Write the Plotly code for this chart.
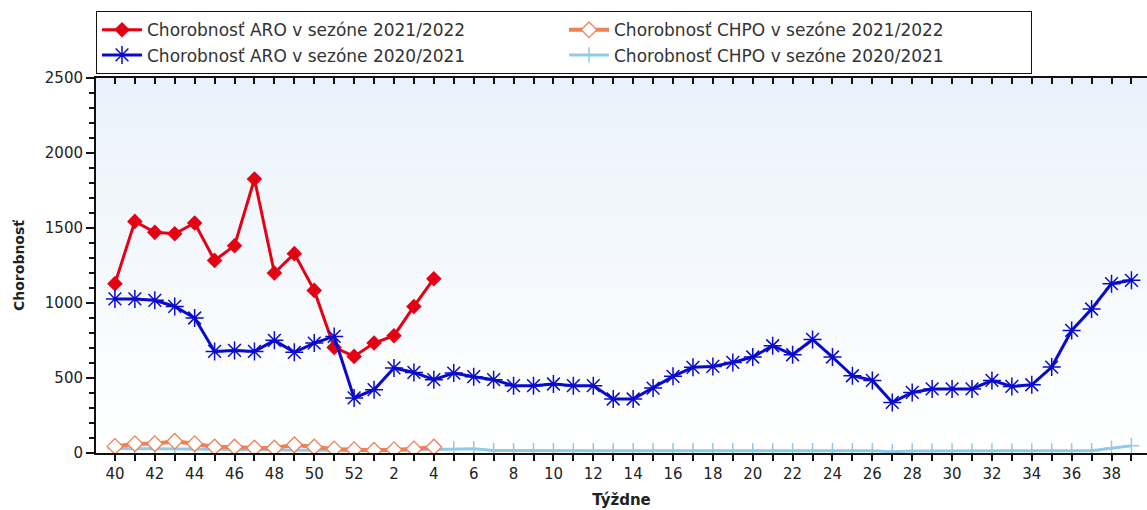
import plotly.graph_objects as go

# ---- data ----
weeks = [40, 41, 42, 43, 44, 45, 46, 47, 48, 49, 50, 51, 52,
         1, 2, 3, 4, 5, 6, 7, 8, 9, 10, 11, 12, 13, 14, 15, 16, 17, 18, 19, 20,
         21, 22, 23, 24, 25, 26, 27, 28, 29, 30, 31, 32, 33, 34, 35, 36, 37, 38, 39]

aro_2122 = [1129, 1544, 1471, 1462, 1533, 1284, 1382, 1827, 1200, 1329, 1084, 704, 644,
            733, 782, 977, 1162]

aro_2021 = [1027, 1027, 1018, 977, 900, 677, 684, 677, 751, 671, 733, 777, 367,
            422, 567, 537, 489, 533, 509, 489, 449, 449, 460, 449, 449, 360, 360, 433, 511,
            571, 577, 604, 640, 715, 655, 757, 640, 515, 484, 337, 404, 427, 427, 427, 484,
            444, 455, 573, 817, 960, 1129, 1151]

chpo_2122 = [44, 62, 62, 78, 62, 40, 40, 33, 33, 55, 40, 27, 22, 18, 22, 27, 40]

chpo_2021 = [30, 30, 28, 28, 28, 25, 22, 20, 20, 18, 18, 18, 15,
             15, 18, 20, 25, 28, 28, 16, 15, 15, 15, 15, 15, 15, 15, 15, 15,
             15, 15, 15, 15, 15, 15, 15, 15, 15, 15, 8, 14, 14, 14, 14, 14,
             14, 14, 14, 14, 15, 32, 48]

names = ["Chorobnosť ARO v sezóne 2021/2022",
         "Chorobnosť CHPO v sezóne 2021/2022",
         "Chorobnosť ARO v sezóne 2020/2021",
         "Chorobnosť CHPO v sezóne 2020/2021"]

y_ticks = [0, 500, 1000, 1500, 2000, 2500]

# ---- derived positions ----
idx_all = list(range(len(weeks)))
idx_2122 = idx_all[:len(aro_2122)]
tick_text = [str(w) if i % 2 == 0 else "" for i, w in enumerate(weeks)]

RED = "#E60012"
BLUE = "#0A0ACD"
ORANGE = "#F08055"
LBLUE = "#8FCBE8"
FONT = "DejaVu Sans, Verdana, sans-serif"

fig = go.Figure()

fig.add_trace(go.Scatter(
    x=idx_all, y=chpo_2021, name=names[3], mode="lines+markers", legendrank=4,
    line=dict(color=LBLUE, width=3),
    marker=dict(symbol="cross-thin-open", size=11, line=dict(color=LBLUE, width=1.5))))

fig.add_trace(go.Scatter(
    x=idx_2122, y=chpo_2122, name=names[1], mode="lines+markers", legendrank=2,
    line=dict(color=ORANGE, width=4),
    marker=dict(symbol="diamond", size=12, color="white", line=dict(color=ORANGE, width=1.3))))

fig.add_trace(go.Scatter(
    x=idx_2122, y=aro_2122, name=names[0], mode="lines+markers", legendrank=1,
    line=dict(color=RED, width=3),
    marker=dict(symbol="diamond", size=12, color=RED)))

fig.add_trace(go.Scatter(
    x=idx_all, y=aro_2021, name=names[2], mode="lines+markers", legendrank=3,
    line=dict(color=BLUE, width=3),
    marker=dict(symbol="asterisk-open", size=15, line=dict(color=BLUE, width=1.5))))

# vertical gradient background of plot area
n_bands = 30
top = (233, 242, 251)
bot = (255, 255, 255)
shapes = []
for k in range(n_bands):
    t = k / (n_bands - 1)
    c = tuple(int(round(top[j] + (bot[j] - top[j]) * t)) for j in range(3))
    shapes.append(dict(type="rect", xref="x domain", yref="y domain", layer="below",
                       x0=0, x1=1, y0=1 - (k + 1) / n_bands, y1=1 - k / n_bands,
                       fillcolor="rgb(%d,%d,%d)" % c, line=dict(width=0)))

fig.update_layout(
    width=1147, height=510,
    margin=dict(l=96, r=0, t=78, b=57),
    paper_bgcolor="white",
    plot_bgcolor="white",
    shapes=shapes,
    font=dict(family=FONT, size=15, color="#222222"),
    showlegend=True,
    legend=dict(
        orientation="h", x=0, xanchor="left", y=1.178, yanchor="top",
        bgcolor="white", bordercolor="#111111", borderwidth=1,
        font=dict(family=FONT, size=17, color="#333333"),
        entrywidth=412, tracegroupgap=0, traceorder="normal",
        itemwidth=40,
    ),
    xaxis=dict(
        range=[-0.95, 51.78], tickmode="array", tickvals=idx_all, ticktext=tick_text,
        ticks="outside", ticklen=6, tickwidth=2, tickcolor="#111111",
        showline=True, linecolor="#111111", linewidth=2,
        showgrid=False, zeroline=False,
        tickfont=dict(family=FONT, size=15, color="#222222"),
        title=dict(text="<b>Týždne</b>", font=dict(family=FONT, size=15, color="#222222"),
                   standoff=12),
    ),
    xaxis2=dict(
        overlaying="x", side="top", matches="x", anchor="y",
        tickmode="array", tickvals=idx_all, ticktext=["" for _ in idx_all],
        ticks="inside", ticklen=6, tickwidth=2, tickcolor="#111111",
        showline=True, linecolor="#111111", linewidth=2,
        showgrid=False, zeroline=False,
    ),
    yaxis=dict(
        range=[0, 2500], tickmode="array", tickvals=y_ticks,
        ticks="outside", ticklen=8, tickwidth=2, tickcolor="#111111",
        showline=True, linecolor="#111111", linewidth=2,
        showgrid=False, zeroline=False,
        minor=dict(dtick=100, ticks="outside", ticklen=5, tickwidth=2, tickcolor="#111111"),
        tickfont=dict(family=FONT, size=15, color="#222222"),
        title=dict(text="<b>Chorobnosť</b>", font=dict(family=FONT, size=14, color="#222222"),
                   standoff=17),
    ),
)

# invisible trace so the top axis is drawn
fig.add_trace(go.Scatter(x=[idx_all[0]], y=[aro_2021[0]], xaxis="x2", showlegend=False,
                         mode="markers", marker=dict(opacity=0), hoverinfo="skip"))

fig.write_html("out.html", config={"displayModeBar": False},
               post_script="document.body.style.margin='0';document.body.style.overflow='hidden';")
